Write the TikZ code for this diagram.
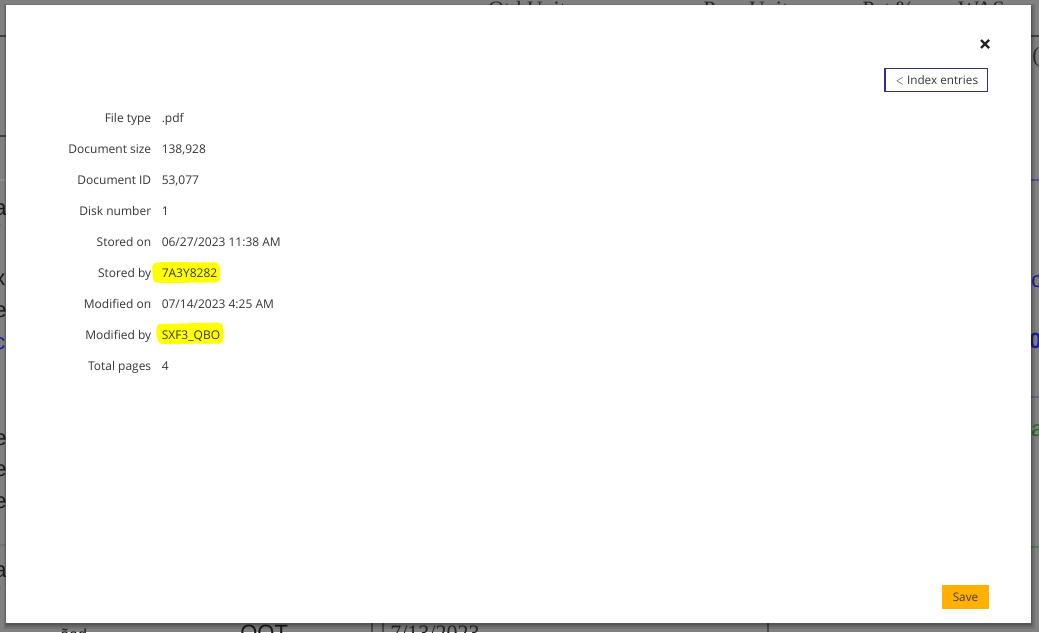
\documentclass[tikz,border=0pt]{standalone}
\usepackage{fontspec}
\setmainfont{Open Sans}
\newfontfamily\bgserif{Liberation Serif}
\newfontfamily\bgsans{Liberation Sans}
\definecolor{bgray}{HTML}{808080}
\definecolor{txt}{HTML}{363636}
\definecolor{navy}{HTML}{2B3090}
\definecolor{saveor}{HTML}{FFB000}
\definecolor{hl}{HTML}{FFFF00}
\definecolor{bgblue}{HTML}{1C1CA0}
\definecolor{bggreen}{HTML}{1E6A1E}
\begin{document}
\begin{tikzpicture}[x=0.75pt,y=-0.75pt,
  lbl/.style={anchor=base east, text=txt, font=\fontsize{9}{10}\selectfont, inner sep=0pt},
  val/.style={anchor=base west, text=txt, font=\fontsize{9}{10}\selectfont, inner sep=0pt},
  bgfrag/.style={anchor=base west, inner sep=0pt, font=\bgsans\fontsize{16.5}{18}\selectfont, text=black!90},
  bgtop/.style={anchor=base west, inner sep=0pt, font=\bgserif\fontsize{16.5}{18}\selectfont, text=black!85},
  bgline/.style={line width=1.2pt},
  hlmark/.style={fill=hl, rounded corners=2.5pt},
  btnbox/.style={draw=navy, line width=0.9pt, fill=white}]
\useasboundingbox (0,0) rectangle (1039,632);
\clip (0,0) rectangle (1039,632);
% page behind the dialog
\fill[bgray] (0,0) rectangle (1039,632);
% background rules
\draw[bgline, black!75] (0,36) -- (1039,36);
\draw[bgline, black!75] (0,136) -- (40,136);
\draw[bgline, black!45] (0,180) -- (40,180);
\draw[bgline, black!50] (0,529) -- (40,529);
\draw[bgline, black!55] (0,545) -- (40,545);
\draw[bgline, navy!55!bgray] (1000,180) -- (1039,180);
\draw[bgline, navy!35!bgray] (1000,397) -- (1039,397);
\draw[bgline, bggreen!40!bgray] (1000,547) -- (1039,547);
\draw[bgline, black!70] (372,600) -- (372,632);
\draw[bgline, black!70] (383,600) -- (383,632);
\draw[bgline, black!70] (768,600) -- (768,632);
% background text fragments
\node[bgtop] (t1) at (488,16) {Otd Unit};
\node[bgtop] (t2) at (703,16) {Prev Unit};
\node[bgtop] (t3) at (862,16) {Pct \%};
\node[bgtop] (t4) at (958,16) {WAS};
\node[bgtop] (t5) at (1032,62) {(};
\node[bgfrag] (l1) at (-6,215) {a};
\node[bgfrag, text=bgblue] (l2) at (-6,240) {/};
\node[bgfrag] (l3) at (-6,285) {x};
\node[bgfrag] (l4) at (-6,317) {e};
\node[bgfrag, text=bgblue] (l5) at (-6,349) {c};
\node[bgfrag] (l6) at (-6,413) {l};
\node[bgfrag] (l7) at (-6,445) {e};
\node[bgfrag] (l8) at (-6,476) {e};
\node[bgfrag] (l9) at (-6,508) {e};
\node[bgfrag] (l10) at (-6,577) {a};
\node[bgfrag, text=bgblue] (l11) at (-6,604) {/};
\node[bgfrag, text=bgblue] (r1) at (1031,287) {c};
\node[bgfrag, text=bgblue, font=\bgsans\bfseries\fontsize{16.5}{18}\selectfont] (r2) at (1029,348) {0c};
\node[bgfrag, text=bggreen] (r3) at (1031,436) {a};
\node[bgfrag] (b1) at (240,640) {OOT};
\node[bgtop] (b2) at (390,640) {7/13/2023};
\node[bgfrag, font=\bgsans\fontsize{12}{14}\selectfont] (b3) at (60,640) {ãed};
% dialog shadow
\fill[black, opacity=0.10] (4,4) rectangle (1035,629);
\fill[black, opacity=0.12] (5,5) rectangle (1033,627);
\fill[black, opacity=0.15] (6,6) rectangle (1032,625);
% dialog
\fill[white] (6,5) rectangle (1031,623);
% close button
\coordinate (xc) at (985,44);
\draw[line width=1.7pt, black!85] ([shift={(-4,-4)}]xc) -- ([shift={(4,4)}]xc);
\draw[line width=1.7pt, black!85] ([shift={(-4,4)}]xc) -- ([shift={(4,-4)}]xc);
% index entries button
\draw[btnbox] (885,68.5) rectangle (987.5,91.5);
\node[text=txt, font=\fontsize{8.8}{10}\selectfont, inner sep=0pt] (idx) at (937,80.5) {\raisebox{0.3pt}{\scalebox{0.85}[1.05]{$<$}} Index entries};
% save button
\fill[saveor] (942,585) rectangle (989,608.5);
\node[text=black!75, font=\fontsize{8.8}{10}\selectfont, inner sep=0pt] (save) at (965.5,597.5) {Save};
% highlights
\path[hlmark] (152,264) -- (160,262) -- (219,262.5) -- (220.5,272) -- (219.5,282.5) -- (157,283) -- (153,281) -- cycle;
\path[hlmark] (157,324) -- (222,322.5) -- (224,333) -- (223,343.5) -- (159,344) -- (156,334) -- cycle;
% fields
\node[lbl] (k1) at (151.5,122) {File type};
\node[val] (v1) at (161.5,122) {.pdf};
\node[lbl] (k2) at (151.5,153) {Document size};
\node[val] (v2) at (161.5,153) {138,928};
\node[lbl] (k3) at (151.5,184) {Document ID};
\node[val] (v3) at (161.5,184) {53,077};
\node[lbl] (k4) at (151.5,215) {Disk number};
\node[val] (v4) at (161.5,215) {1};
\node[lbl] (k5) at (151.5,246) {Stored on};
\node[val] (v5) at (161.5,246) {06/27/2023 11:38 AM};
\node[lbl] (k6) at (151.5,277) {Stored by};
\node[val] (v6) at (161.5,277) {7A3Y8282};
\node[lbl] (k7) at (151.5,308) {Modified on};
\node[val] (v7) at (161.5,308) {07/14/2023 4:25 AM};
\node[lbl] (k8) at (151.5,339) {Modified by};
\node[val] (v8) at (161.5,339) {SXF3\_QBO};
\node[lbl] (k9) at (151.5,370) {Total pages};
\node[val] (v9) at (161.5,370) {4};
\end{tikzpicture}
\end{document}
